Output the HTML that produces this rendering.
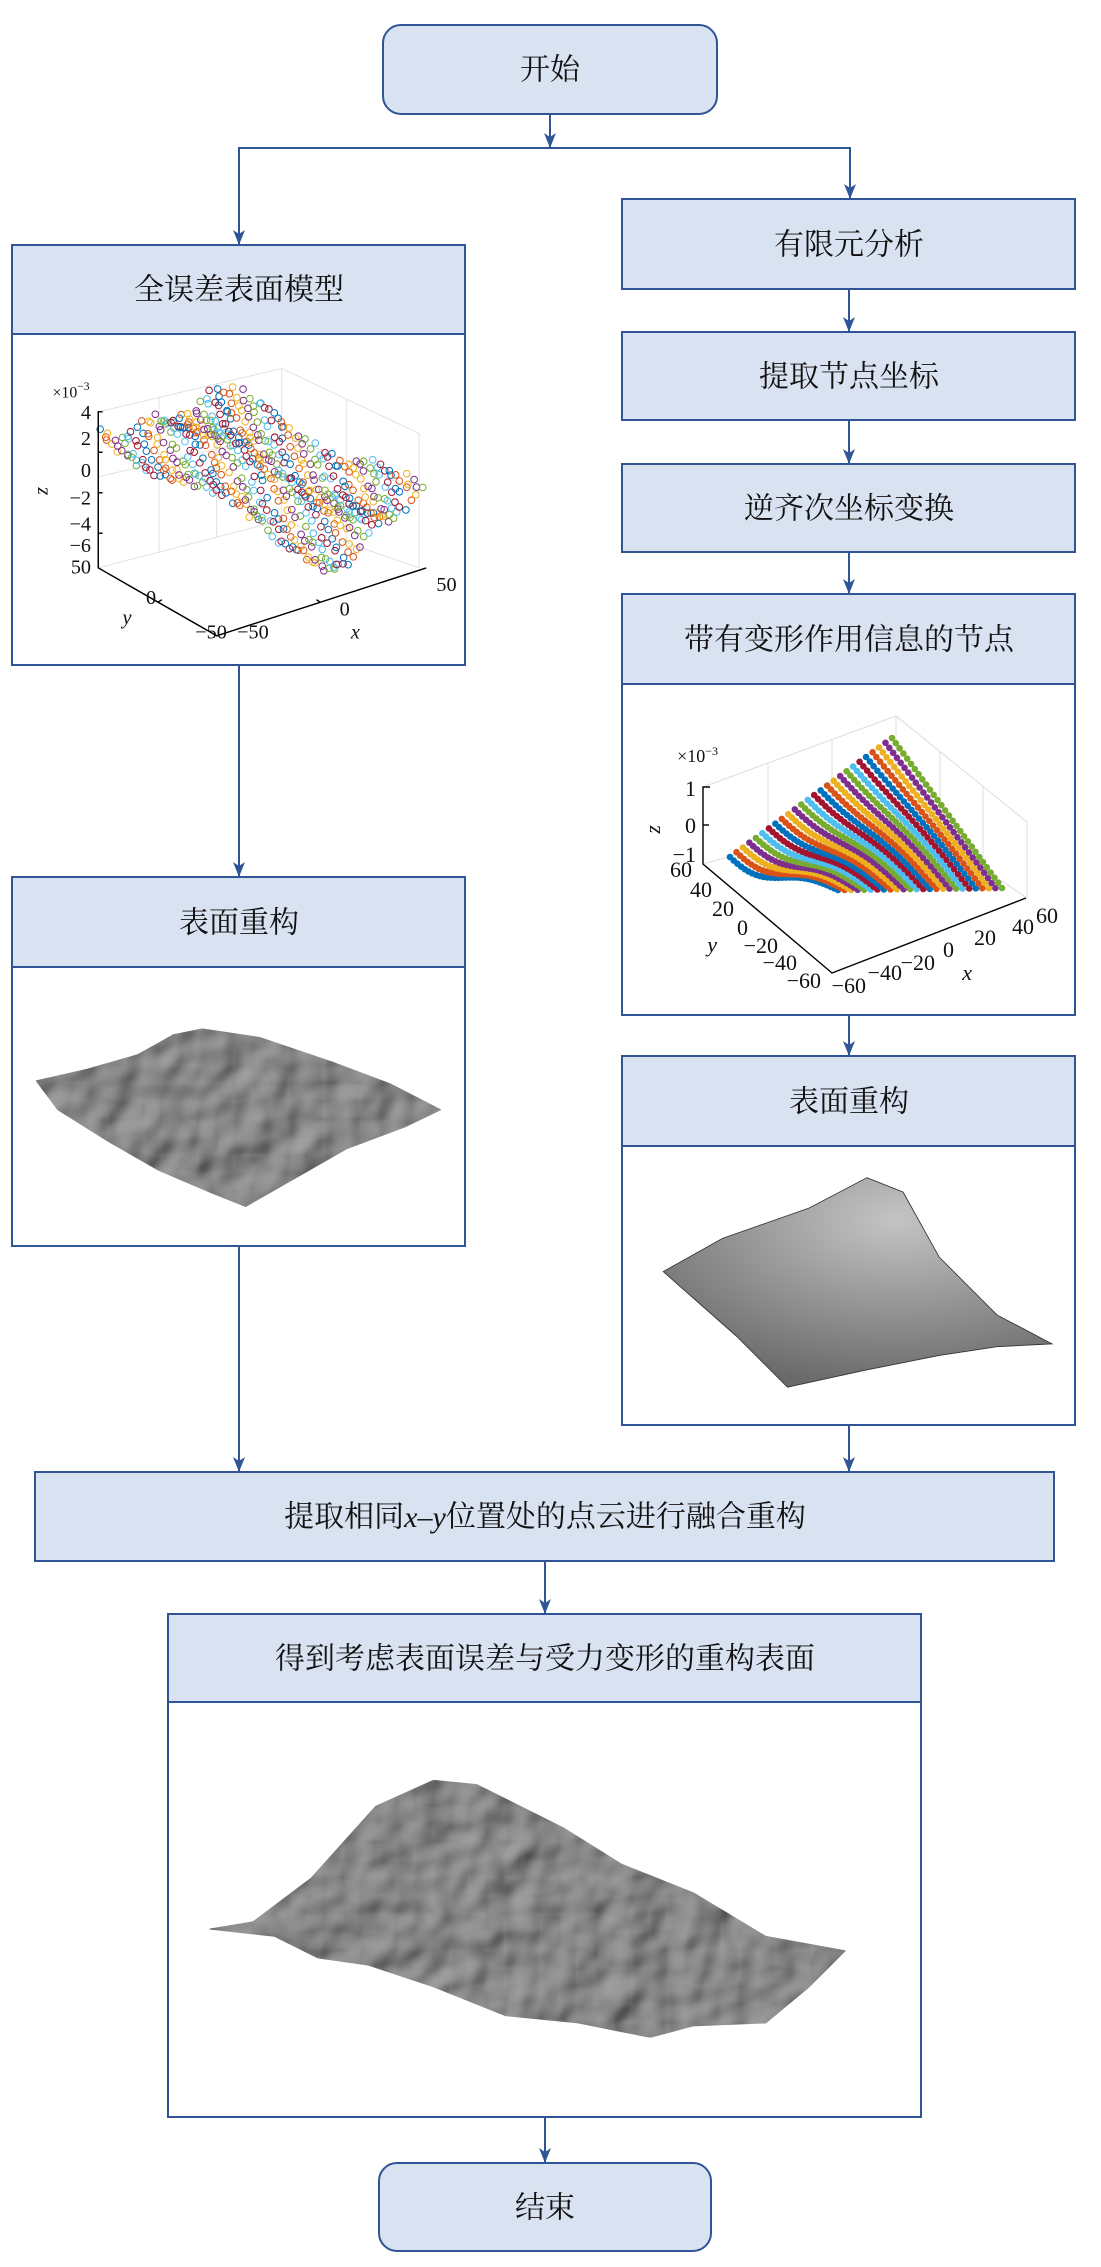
<!DOCTYPE html>
<html><head><meta charset="utf-8"><style>
html,body{margin:0;padding:0;background:#fff}
svg{display:block}
.t{font-family:"Liberation Serif","Noto Serif CJK SC",serif;font-size:30px;fill:#111;text-anchor:middle;dominant-baseline:central}
.ax{font-family:"Liberation Serif",serif;fill:#111}
</style></head><body>
<svg id="s" width="1101" height="2267" viewBox="0 0 1101 2267" xmlns="http://www.w3.org/2000/svg">
<defs>
<marker id="ar" markerWidth="16" markerHeight="12" refX="15" refY="6" orient="auto" markerUnits="userSpaceOnUse">
<path d="M0,0 L15,6 L0,12 L4,6 Z" fill="#2f5597"/></marker>
<filter id="bump" x="0" y="0" width="100%" height="100%">
<feTurbulence type="fractalNoise" baseFrequency="0.04" numOctaves="2" seed="4" result="n"/>
<feDiffuseLighting in="n" surfaceScale="5" lighting-color="#a4a4a4" result="l"><feDistantLight azimuth="225" elevation="40"/></feDiffuseLighting>
<feComposite in="l" in2="SourceGraphic" operator="in"/>
</filter>
<radialGradient id="sm2" cx="0.6" cy="0.2" r="0.8"><stop offset="0" stop-color="#c4c4c4"/><stop offset="1" stop-color="#6a6a6a"/></radialGradient>
</defs>
<g stroke="#2f5597" stroke-width="2" fill="#d9e2f1">
<rect x="383" y="25" width="334" height="89" rx="18"/>
<rect x="12" y="245" width="453" height="420" fill="#fff"/><rect x="12" y="245" width="453" height="89"/>
<rect x="622" y="199" width="453" height="90"/>
<rect x="622" y="332" width="453" height="88"/>
<rect x="622" y="464" width="453" height="88"/>
<rect x="622" y="594" width="453" height="421" fill="#fff"/><rect x="622" y="594" width="453" height="90"/>
<rect x="12" y="877" width="453" height="369" fill="#fff"/><rect x="12" y="877" width="453" height="90"/>
<rect x="622" y="1056" width="453" height="369" fill="#fff"/><rect x="622" y="1056" width="453" height="90"/>
<rect x="35" y="1472" width="1019" height="89"/>
<rect x="168" y="1614" width="753" height="503" fill="#fff"/><rect x="168" y="1614" width="753" height="88"/>
<rect x="379" y="2163" width="332" height="88" rx="18"/>
</g>
<g stroke="#2f5597" stroke-width="2" fill="none">
<line x1="550" y1="114" x2="550" y2="148" marker-end="url(#ar)"/>
<polyline points="850,198 850,148 239,148 239,160"/>
<line x1="239" y1="148" x2="239" y2="245" marker-end="url(#ar)"/>
<line x1="850" y1="148" x2="850" y2="199" marker-end="url(#ar)"/>
<line x1="849" y1="289" x2="849" y2="332" marker-end="url(#ar)"/>
<line x1="849" y1="420" x2="849" y2="464" marker-end="url(#ar)"/>
<line x1="849" y1="552" x2="849" y2="594" marker-end="url(#ar)"/>
<line x1="239" y1="665" x2="239" y2="877" marker-end="url(#ar)"/>
<line x1="849" y1="1015" x2="849" y2="1056" marker-end="url(#ar)"/>
<line x1="239" y1="1246" x2="239" y2="1472" marker-end="url(#ar)"/>
<line x1="849" y1="1425" x2="849" y2="1472" marker-end="url(#ar)"/>
<line x1="545" y1="1561" x2="545" y2="1614" marker-end="url(#ar)"/>
<line x1="545" y1="2117" x2="545" y2="2163" marker-end="url(#ar)"/>
</g>
<text class="t" x="550" y="70">开始</text>
<text class="t" x="239" y="290">全误差表面模型</text>
<text class="t" x="849" y="245">有限元分析</text>
<text class="t" x="849" y="377">提取节点坐标</text>
<text class="t" x="849" y="509">逆齐次坐标变换</text>
<text class="t" x="849" y="640">带有变形作用信息的节点</text>
<text class="t" x="239" y="923">表面重构</text>
<text class="t" x="849" y="1102">表面重构</text>
<text class="t" x="545" y="1517">提取相同<tspan font-style="italic">x</tspan>–<tspan font-style="italic">y</tspan>位置处的点云进行融合重构</text>
<text class="t" x="545" y="1659">得到考虑表面误差与受力变形的重构表面</text>
<text class="t" x="545" y="2208">结束</text>

<g transform="scale(1.445)">
<g stroke="#ddd" stroke-width="0.6" fill="none">
<polyline points="68,285 195,255 290,300"/><line x1="195" y1="255" x2="195" y2="360"/>
<line x1="68" y1="393" x2="195" y2="360"/><line x1="195" y1="360" x2="290" y2="393"/>
<line x1="110" y1="275" x2="110" y2="383"/><line x1="150" y1="265" x2="150" y2="372"/>
<line x1="240" y1="276" x2="240" y2="375"/><line x1="290" y1="300" x2="290" y2="393"/>
<line x1="68" y1="330" x2="195" y2="300"/><line x1="195" y1="300" x2="290" y2="340"/>
</g>
<g id="p1"></g>
<g stroke="#000" stroke-width="1" fill="none">
<polyline points="71,285 68,285 68,393 150,440 295,393"/>
<line x1="68" y1="313" x2="71" y2="313"/><line x1="68" y1="341" x2="71" y2="341"/><line x1="68" y1="369" x2="71" y2="369"/>
<line x1="109" y1="417" x2="112" y2="415"/><line x1="222" y1="417" x2="219" y2="415"/>
</g>
<g class="ax" font-size="14" text-anchor="end">
<text x="62" y="275" font-size="11">×10<tspan dy="-5" font-size="8">−3</tspan></text>
<text x="63" y="290">4</text><text x="63" y="308">2</text><text x="63" y="330">0</text><text x="63" y="349">−2</text><text x="63" y="367">−4</text><text x="63" y="382">−6</text><text x="63" y="397">50</text>
<text x="108" y="418">0</text><text x="157" y="442">−50</text><text x="186" y="442">−50</text><text x="242" y="426">0</text><text x="316" y="409">50</text>
<text x="91" y="432" font-style="italic">y</text><text x="249" y="442" font-style="italic">x</text>
<text x="0" y="0" font-style="italic" transform="translate(33,337) rotate(-90)">z</text>
</g>
</g>

<g stroke="#ddd" stroke-width="1" fill="none">
<polyline points="703,787 896,716 1027,822"/><line x1="896" y1="716" x2="896" y2="860"/>
<line x1="703" y1="864" x2="896" y2="810"/><line x1="896" y1="810" x2="1027" y2="898"/>
<line x1="768" y1="763" x2="768" y2="845"/><line x1="832" y1="740" x2="832" y2="828"/>
<line x1="940" y1="752" x2="940" y2="880"/><line x1="983" y1="787" x2="983" y2="890"/>
<line x1="1027" y1="822" x2="1027" y2="898"/>
</g>
<g id="p2"></g>
<g stroke="#000" stroke-width="1.4" fill="none">
<polyline points="710,787 703,787 703,864 832,973 1026,898"/>
<line x1="703" y1="825" x2="709" y2="825"/>
</g>
<g class="ax" font-size="22" text-anchor="end">
<text x="718" y="762" font-size="18">×10<tspan dy="-7" font-size="12">−3</tspan></text>
<text x="696" y="796">1</text><text x="696" y="833">0</text><text x="696" y="862">−1</text>
<text x="692" y="877">60</text><text x="712" y="897">40</text><text x="734" y="916">20</text><text x="748" y="935">0</text><text x="778" y="953">−20</text><text x="797" y="970">−40</text><text x="821" y="988">−60</text>
<text x="866" y="993">−60</text><text x="902" y="980">−40</text><text x="935" y="970">−20</text><text x="954" y="957">0</text><text x="996" y="945">20</text><text x="1034" y="934">40</text><text x="1058" y="923">60</text>
<text x="717" y="952" font-style="italic">y</text><text x="972" y="980" font-style="italic">x</text>
<text x="0" y="0" font-style="italic" transform="translate(660,825) rotate(-90)">z</text>
</g>

<g transform="scale(1.445)">
<g stroke="#333" stroke-width="0.6">
<polygon filter="url(#bump)" fill="#888" points="25,748 60,740 95,730 120,716 140,712 180,718 230,735 270,750 305,768 280,780 240,795 205,815 170,835 145,825 110,810 75,790 40,768"/>
<polygon fill="url(#sm2)" points="459,880 500,857 560,836 600,815 625,825 650,870 690,910 728,930 690,932 650,938 600,948 545,960 510,925"/>
<polygon filter="url(#bump)" fill="#888" points="145,1335 175,1330 215,1300 260,1250 300,1232 330,1235 390,1265 430,1290 480,1310 530,1340 585,1350 560,1375 530,1400 480,1402 450,1410 400,1400 350,1395 300,1375 255,1360 220,1355 190,1340"/>
</g>
</g>
</svg>
<script>
var C=["#0072BD","#D95319","#EDB120","#7E2F8E","#77AC30","#4DBEEE","#A2142F"];
var seed=7;function r(){seed=(seed*16807)%2147483647;return seed/2147483647;}
function lerp(A,B,Cc,D,u,v){return[(1-u)*(1-v)*A[0]+u*(1-v)*B[0]+u*v*Cc[0]+(1-u)*v*D[0],(1-u)*(1-v)*A[1]+u*(1-v)*B[1]+u*v*Cc[1]+(1-u)*v*D[1]];}
var g1=document.getElementById("p1"),h="";
for(var i=0;i<22;i++)for(var j=0;j<26;j++){var u=i/21,v=j/25;var p=lerp([68,300],[150,272],[292,345],[232,392],u,v);
p[1]+=6*Math.sin(v*9+u*3)+4*Math.sin(u*11)+(r()-0.5)*6;p[0]+=(r()-0.5)*3;
h+='<circle cx="'+p[0].toFixed(1)+'" cy="'+p[1].toFixed(1)+'" r="2.3" fill="none" stroke-width="0.7" stroke="'+C[(i+j)%7]+'"/>';}
g1.innerHTML=h;
var g2=document.getElementById("p2");h="";
for(var i=0;i<26;i++)for(var j=0;j<30;j++){var u=i/25,v=j/29;var p=lerp([730,857],[892,738],[1002,888],[838,890],u,v);
p[1]+=(1-u)*14*Math.sin(v*Math.PI*1.6)*(1-v)-u*(1-u)*20*Math.sin(v*Math.PI);
h+='<circle cx="'+p[0].toFixed(1)+'" cy="'+p[1].toFixed(1)+'" r="3.3" fill="'+C[i%7]+'"/>';}
g2.innerHTML=h;
</script>
</body></html>
